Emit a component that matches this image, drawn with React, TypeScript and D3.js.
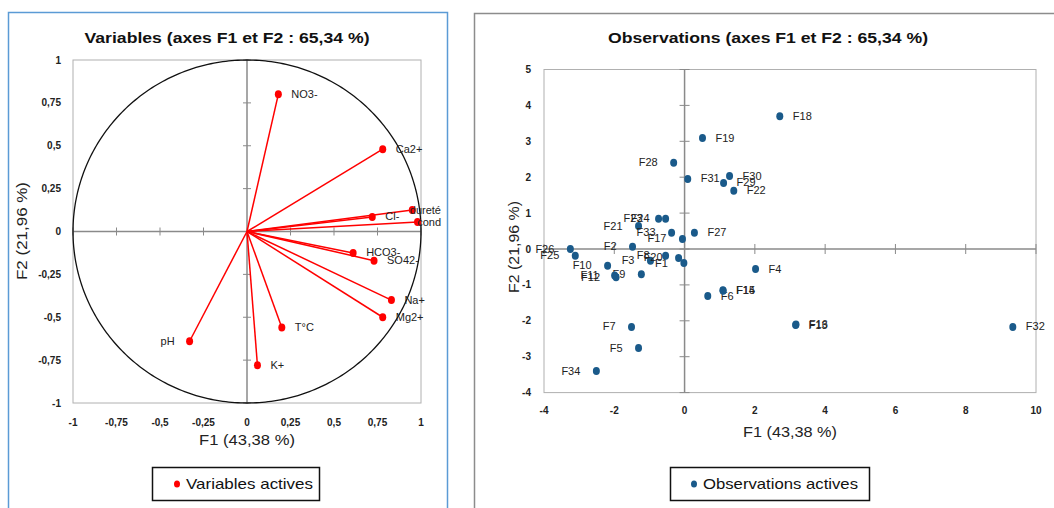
import React from "react";
import * as d3 from "d3";

// ---- Data: variables (correlation circle) ----
const varNames = ["NO3-", "Ca2+", "dureté", "Cl-", "cond", "HCO3-", "SO42-", "Na+", "Mg2+", "T°C", "pH", "K+"];
const varF1 = [0.18, 0.78, 0.95, 0.72, 0.98, 0.61, 0.73, 0.83, 0.78, 0.2, -0.33, 0.06];
const varF2 = [0.8, 0.48, 0.125, 0.085, 0.055, -0.125, -0.17, -0.4, -0.5, -0.56, -0.64, -0.78];

// ---- Data: observations ----
const obsNames = [
  "F1", "F2", "F3", "F4", "F5", "F6", "F7", "F8", "F9", "F10", "F11", "F12",
  "F13", "F14", "F15", "F16", "F17", "F18", "F19", "F20", "F21", "F22", "F23", "F24",
  "F25", "F26", "F27", "F28", "F29", "F30", "F31", "F32", "F33", "F34",
];
const obsF1 = [
  -0.02, -1.48, -0.97, 2.02, -1.31, 0.66, -1.51, -0.54, -1.23, -2.19, -1.99, -1.95,
  3.16, 1.09, 1.1, 3.17, -0.06, 2.71, 0.51, -0.17, -1.31, 1.4, -0.74, -0.54,
  -3.11, -3.25, 0.28, -0.31, 1.11, 1.28, 0.09, 9.34, -0.37, -2.51,
];
const obsF2 = [
  -0.39, 0.06, -0.33, -0.56, -2.76, -1.31, -2.17, -0.19, -0.7, -0.47, -0.74, -0.79,
  -2.12, -1.15, -1.16, -2.1, 0.28, 3.7, 3.09, -0.25, 0.64, 1.62, 0.84, 0.84,
  -0.19, 0.0, 0.45, 2.4, 1.84, 2.03, 1.95, -2.17, 0.45, -3.4,
];

// ---- Tick values ----
const varTicks = [-1, -0.75, -0.5, -0.25, 0, 0.25, 0.5, 0.75, 1];
const obsXTicks = [-4, -2, 0, 2, 4, 6, 8, 10];
const obsYTicks = [-4, -3, -2, -1, 0, 1, 2, 3, 4, 5];

const titleLeft = "Variables (axes F1 et F2 : 65,34 %)";
const titleRight = "Observations (axes F1 et F2 : 65,34 %)";
const xTitle = "F1 (43,38 %)";
const yTitle = "F2 (21,96 %)";
const legendLeft = "Variables actives";
const legendRight = "Observations actives";

const fr = d3.formatLocale({ decimal: ",", thousands: " ", grouping: [3], currency: ["", " €"], minus: "-" });
const fmt = fr.format("~g");

const FONT = "'Liberation Sans', Arial, sans-serif";
const RED = "#FF0000";
const BLUE = "#1A5A8A";

export default function App() {
  // Left plot scales
  const xL = d3.scaleLinear().domain([-1, 1]).range([73, 421]);
  const yL = d3.scaleLinear().domain([-1, 1]).range([403, 60]);
  // Right plot scales
  const xR = d3.scaleLinear().domain([-4, 10]).range([544, 1036]);
  const yR = d3.scaleLinear().domain([-4, 5]).range([392.6, 69.5]);

  const circlePath = d3.line<number>()
    .x((a) => xL(Math.cos(a)))
    .y((a) => yL(Math.sin(a)))(d3.range(0, 2 * Math.PI + 0.001, Math.PI / 180));

  const axisColor = "#8a8a8a";
  const frameColor = "#b0b0b0";
  const adj = "spacingAndGlyphs";

  return (
    <svg width={1054} height={508} style={{ position: "absolute", left: 0, top: 0, background: "#fff" }} fontFamily={FONT}>
      {/* panel borders */}
      <rect x={8.5} y={12.5} width={439} height={520} fill="#fff" stroke="#5B9BD5" strokeWidth={1.5} />
      <rect x={474.5} y={13.5} width={620} height={520} fill="#fff" stroke="#8c8c8c" strokeWidth={1.5} />

      {/* ===== LEFT: Variables ===== */}
      <text x={227} y={43} textAnchor="middle" fontSize={15.5} fontWeight="bold" fill="#111" textLength={285} lengthAdjust={adj}>{titleLeft}</text>
      <rect x={73} y={60} width={348} height={343} fill="none" stroke={frameColor} strokeWidth={1} />
      {/* axes through origin */}
      <line x1={xL(0)} x2={xL(0)} y1={60} y2={403} stroke={axisColor} strokeWidth={1.5} />
      <line x1={73} x2={421} y1={yL(0)} y2={yL(0)} stroke={axisColor} strokeWidth={1.5} />
      {varTicks.map((t) => (
        <g key={"lt" + t}>
          <line x1={xL(0) - 4} x2={xL(0) + 4} y1={yL(t)} y2={yL(t)} stroke={axisColor} strokeWidth={1} />
          <line x1={xL(t)} x2={xL(t)} y1={yL(0) - 4} y2={yL(0) + 4} stroke={axisColor} strokeWidth={1} />
          <text x={61} y={yL(t) + 3.5} textAnchor="end" fontSize={10} fontWeight="bold" fill="#222">{fmt(t)}</text>
          <text x={xL(t)} y={426} textAnchor="middle" fontSize={10} fontWeight="bold" fill="#222">{fmt(t)}</text>
        </g>
      ))}
      <path d={circlePath || ""} fill="none" stroke="#111" strokeWidth={1.3} />
      {varNames.map((n, i) => (
        <line key={"vl" + n} x1={xL(0)} y1={yL(0)} x2={xL(varF1[i])} y2={yL(varF2[i])} stroke={RED} strokeWidth={1.5} />
      ))}
      {varNames.map((n, i) => {
        const px = xL(varF1[i]);
        const py = yL(varF2[i]);
        const w = n.length * 6.2;
        const right = varF1[i] >= 0;
        let tx = right ? px + 13 : px - 15;
        let anchor: "start" | "end" = right ? "start" : "end";
        if (right && tx + w > 441) {
          tx = 441;
          anchor = "end";
        }
        return (
          <g key={"vp" + n}>
            <ellipse cx={px} cy={py} rx={3.5} ry={4} fill={RED} />
            <text x={tx} y={py + 3.5} textAnchor={anchor} fontSize={11} fill="#222">{n}</text>
          </g>
        );
      })}
      <text x={247} y={445} textAnchor="middle" fontSize={15} fill="#222" textLength={96} lengthAdjust={adj}>{xTitle}</text>
      <text transform={`translate(27,${231}) rotate(-90)`} textAnchor="middle" fontSize={15} fill="#222" textLength={98} lengthAdjust={adj}>{yTitle}</text>
      {/* legend left */}
      <rect x={152.5} y={467.5} width={167} height={33} fill="#fff" stroke="#111" strokeWidth={1.5} />
      <ellipse cx={177} cy={484} rx={3} ry={3.5} fill={RED} />
      <text x={186} y={489} fontSize={14.5} fill="#111" textLength={127} lengthAdjust={adj}>{legendLeft}</text>

      {/* ===== RIGHT: Observations ===== */}
      <text x={768} y={43} textAnchor="middle" fontSize={15.5} fontWeight="bold" fill="#111" textLength={320} lengthAdjust={adj}>{titleRight}</text>
      <rect x={544} y={69.5} width={492} height={323.1} fill="none" stroke={frameColor} strokeWidth={1} />
      <line x1={xR(0)} x2={xR(0)} y1={69.5} y2={392.6} stroke={axisColor} strokeWidth={1.5} />
      <line x1={544} x2={1036} y1={yR(0)} y2={yR(0)} stroke={axisColor} strokeWidth={1.5} />
      {obsYTicks.map((t) => (
        <g key={"ry" + t}>
          <line x1={xR(0) - 5} x2={xR(0) + 5} y1={yR(t)} y2={yR(t)} stroke={axisColor} strokeWidth={1} />
          <text x={531} y={yR(t) + 3.5} textAnchor="end" fontSize={10} fontWeight="bold" fill="#222">{fmt(t)}</text>
        </g>
      ))}
      {obsXTicks.map((t) => (
        <g key={"rx" + t}>
          <line x1={xR(t)} x2={xR(t)} y1={yR(0) - 5} y2={yR(0) + 5} stroke={axisColor} strokeWidth={1} />
          <text x={xR(t)} y={414} textAnchor="middle" fontSize={10} fontWeight="bold" fill="#222">{fmt(t)}</text>
        </g>
      ))}
      {obsNames.map((n, i) => {
        const px = xR(obsF1[i]);
        const py = yR(obsF2[i]);
        const right = obsF1[i] >= 0;
        return (
          <g key={"op" + n}>
            <ellipse cx={px} cy={py} rx={3.5} ry={4} fill={BLUE} />
            <text x={right ? px + 13 : px - 16} y={py + 3.5} textAnchor={right ? "start" : "end"} fontSize={11} fill="#222">{n}</text>
          </g>
        );
      })}
      <text x={790} y={437} textAnchor="middle" fontSize={15} fill="#222" textLength={94} lengthAdjust={adj}>{xTitle}</text>
      <text transform={`translate(519,${247}) rotate(-90)`} textAnchor="middle" fontSize={15} fill="#222" textLength={92} lengthAdjust={adj}>{yTitle}</text>
      {/* legend right */}
      <rect x={670.5} y={467.5} width={199} height={33} fill="#fff" stroke="#111" strokeWidth={1.5} />
      <ellipse cx={694} cy={484} rx={3} ry={3.5} fill={BLUE} />
      <text x={703} y={489} fontSize={14.5} fill="#111" textLength={155} lengthAdjust={adj}>{legendRight}</text>
    </svg>
  );
}
